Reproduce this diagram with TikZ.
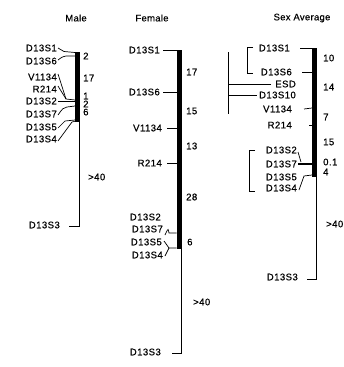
\documentclass[tikz,border=0pt]{standalone}
\usepackage{fontspec}
\setmainfont{Liberation Sans}
\newfontfamily\lblfont[LetterSpace=5,FakeBold=0.6]{Liberation Sans}
\newfontfamily\ttlfont[LetterSpace=3,FakeBold=0.3]{Liberation Sans}
\begin{document}
\begin{tikzpicture}[x=1pt,y=-1pt,
  lab/.style={anchor=east,inner sep=0pt,font=\lblfont\fontsize{9.5}{10}\selectfont},
  num/.style={anchor=west,inner sep=0pt,font=\lblfont\fontsize{9.5}{10}\selectfont},
  ttl/.style={inner sep=0pt,font=\ttlfont\fontsize{9.5}{10}\selectfont},
  ln/.style={line width=0.7pt},
  barfill/.style={fill=black}]
\useasboundingbox (0,0) rectangle (344,367);
% ---------------- Male ----------------
\node[ttl] (tm) at (76,18) {Male};
\fill[barfill] (75,52) rectangle (79.5,122);
\coordinate (mb3) at (69,226);
\draw[ln] (79,121) -- (79,226) -- (mb3);
\node[lab] (m1) at (57,48) {D13S1};
\node[lab] (m6) at (57,61) {D13S6};
\node[lab] (mv) at (57,77) {V1134};
\node[lab] (mr) at (57,89) {R214};
\node[lab] (m2) at (57,101) {D13S2};
\node[lab] (m7) at (57,114) {D13S7};
\node[lab] (m5) at (57,127) {D13S5};
\node[lab] (m4) at (57,139) {D13S4};
\node[lab] (m3) at (60,225) {D13S3};
\draw[ln] ([xshift=1pt]m1.east) -- (64,51.5) -- (75,52.5);
\draw[ln] ([xshift=1pt,yshift=1pt]m6.east) .. controls (62,57) .. (66,56) -- (75,56);
\draw[ln] ([xshift=1pt,yshift=3pt]mv.east) -- (66,99) -- (75,100);
\draw[ln] ([xshift=1pt,yshift=3pt]mr.east) -- (66,99);
\draw[ln] ([xshift=1pt]m2.east) -- (75,101);
\draw[ln] ([xshift=1pt,yshift=-1pt]m7.east) .. controls (63,108) .. (67,107) -- (75,106);
\draw[ln] ([xshift=1pt,yshift=-1pt]m5.east) -- (65,121) -- (75,120);
\draw[ln] ([xshift=1pt,yshift=-2pt]m4.east) -- (72,122) -- (76,121);
\node[num] (mn1) at (83,56) {2};
\node[num] (mn2) at (83,78) {17};
\node[num] (mn3) at (83,96) {1};
\node[num] (mn4) at (83,104) {2};
\node[num] (mn5) at (83,112) {6};
\node[num] (mn6) at (88,177) {>40};
% ---------------- Female ----------------
\node[ttl] (tf) at (152,18) {Female};
\fill[barfill] (176.5,50) rectangle (181.5,249);
\coordinate (fb3) at (172,353);
\draw[ln] (181,248) -- (181,353) -- (fb3);
\node[lab] (f1) at (160,50) {D13S1};
\node[lab] (f6) at (160,92) {D13S6};
\node[lab] (fv) at (162,128) {V1134};
\node[lab] (fr) at (162,163) {R214};
\node[lab] (f2) at (161,217) {D13S2};
\node[lab] (f7) at (163,229) {D13S7};
\node[lab] (f5) at (162,242) {D13S5};
\node[lab] (f4) at (163,255) {D13S4};
\node[lab] (f3) at (161,352) {D13S3};
\draw[ln] ([xshift=3pt]f1.east) -- (176.5,50);
\draw[ln] ([xshift=3pt]f6.east) -- (176.5,92);
\draw[ln] ([xshift=5pt]fv.east) -- (176.5,128);
\draw[ln] ([xshift=5pt]fr.east) -- (176.5,163);
\draw[ln] ([xshift=2pt,yshift=-6pt]f7.east) .. controls (169,226) and (168,230) .. (169,233) -- (176.5,233);
\draw[ln] ([xshift=2pt,yshift=1pt]f5.east) -- (169,248) -- (176.5,248);
\draw[ln] ([xshift=2pt,yshift=-1pt]f4.east) -- (169,248);
\node[num] (fn1) at (186,72) {17};
\node[num] (fn2) at (186,111) {15};
\node[num] (fn3) at (186,146) {13};
\node[num] (fn4) at (186,197) {28};
\node[num] (fn5) at (187,242) {6};
\node[num] (fn6) at (193,302) {>40};
% ---------------- Sex Average ----------------
\node[ttl] (ts) at (302,18) {Sex Average};
\fill[barfill] (312,48) rectangle (317,177);
\coordinate (sb3) at (307,279);
\draw[ln] (316,176) -- (316,279) -- (sb3);
\node[lab] (s1) at (290,48) {D13S1};
\node[lab] (s6) at (292,72) {D13S6};
\node[lab] (se) at (296,84) {ESD};
\node[lab] (s10) at (296,95) {D13S10};
\node[lab] (sv) at (292,109) {V1134};
\node[lab] (sr) at (292,125) {R214};
\node[lab] (s2) at (297,150) {D13S2};
\node[lab] (s7) at (297,164) {D13S7};
\node[lab] (s5) at (297,177) {D13S5};
\node[lab] (s4) at (297,188) {D13S4};
\node[lab] (s3) at (298,277) {D13S3};
\draw[ln] ([xshift=10pt]s1.east) -- (312,48);
\draw[ln] ([xshift=10pt]s6.east) -- (312,72);
\draw[ln] ([xshift=12pt]sv.east) -- (312,108);
\draw[ln] ([xshift=17pt]sr.east) -- (312,125);
\draw[ln] ([xshift=1pt,yshift=-2pt]s2.east) -- (301,162);
\draw[line width=1.4pt] ([xshift=1pt]s7.east) -- (312,164);
\draw[ln] ([xshift=2pt,yshift=-2pt]s4.east) -- (304,176) -- (312,175);
\coordinate (esdv1) at (228,52);
\coordinate (esdv2) at (228,114);
\draw[ln] (esdv1) -- (esdv2);
\draw[ln] ([xshift=-4pt]se.west) -- (228,84);
\draw[ln] ([xshift=-2pt]s10.west) -- (228,95);
\draw[ln] (253,47) -- (247,47) -- (247,73) -- (253,73);
\draw[ln] (255,150) -- (249,150) -- (249,191) -- (255,191);
\node[num] (sn1) at (323,58) {10};
\node[num] (sn2) at (323,87) {14};
\node[num] (sn3) at (323,117) {7};
\node[num] (sn4) at (323,142) {15};
\node[num] (sn5) at (323,162) {0.1};
\node[num] (sn6) at (323,172) {4};
\node[num] (sn7) at (326,224) {>40};
\end{tikzpicture}
\end{document}
